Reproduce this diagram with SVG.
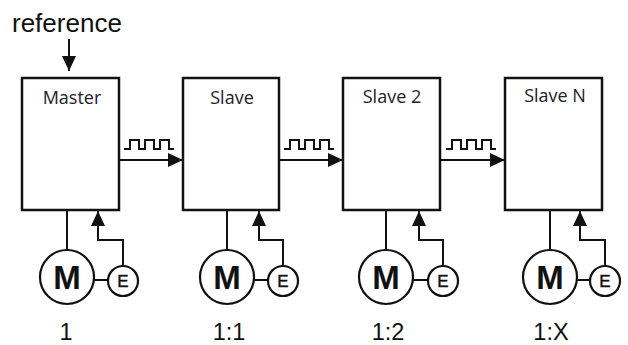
<svg xmlns="http://www.w3.org/2000/svg" width="628" height="345" viewBox="0 0 628 345">
  <defs>
    <marker id="head" markerUnits="userSpaceOnUse" markerWidth="16" markerHeight="14" refX="15" refY="7" orient="auto">
      <path d="M0,0 L15,7 L0,14 z" fill="#111"/>
    </marker>
  </defs>
  <style>
    .box { fill: #fff; stroke: #111; stroke-width: 2.5; }
    .ln { fill: none; stroke: #111; stroke-width: 2; }
    .arr { fill: none; stroke: #111; stroke-width: 2; marker-end: url(#head); }
    .wave { fill: none; stroke: #111; stroke-width: 2; stroke-linejoin: miter; }
    .circ { fill: #fff; stroke: #111; stroke-width: 2.2; }
    .title { font-family: "Open Sans", "DejaVu Sans", sans-serif; font-size: 18px; fill: #222; text-anchor: middle; }
    .m { font-family: "Liberation Sans", Arial, sans-serif; font-weight: bold; font-size: 33px; fill: #111; text-anchor: middle; }
    .e { font-family: "Liberation Sans", Arial, sans-serif; font-size: 17px; fill: #111; text-anchor: middle; stroke: #111; stroke-width: 0.4; }
    .ratio { font-family: "Liberation Sans", Arial, sans-serif; font-size: 23.5px; fill: #111; text-anchor: middle; }
    .ref { font-family: "Liberation Sans", Arial, sans-serif; font-size: 26px; fill: #111; }
  </style>

  <!-- reference input -->
  <g id="reference">
    <text class="ref" x="12" y="32">reference</text>
  </g>

  <!-- controller boxes -->
  <g id="master">
    <rect class="box" x="22" y="78" width="97" height="132"/>
    <text class="title" x="72" y="104">Master</text>
  </g>
  <g id="slave">
    <rect class="box" x="183" y="78" width="96" height="132"/>
    <text class="title" x="232" y="104">Slave</text>
  </g>
  <g id="slave2">
    <rect class="box" x="343" y="78" width="97" height="132"/>
    <text class="title" x="392" y="103">Slave 2</text>
  </g>
  <g id="slaveN">
    <rect class="box" x="505" y="78" width="97" height="132"/>
    <text class="title" x="555" y="102">Slave N</text>
  </g>

  <!-- motors with encoders -->
  <g id="motor1">
    <circle class="circ" cx="67" cy="277" r="27"/>
    <text class="m" x="67" y="289">M</text>
    <circle class="circ" cx="123" cy="281" r="15"/>
    <text class="e" x="123" y="287">E</text>
    <text class="ratio" x="66" y="340">1</text>
  </g>
  <g id="motor2">
    <circle class="circ" cx="227" cy="277" r="27"/>
    <text class="m" x="227" y="289">M</text>
    <circle class="circ" cx="283" cy="281" r="15"/>
    <text class="e" x="283" y="287">E</text>
    <text class="ratio" x="229" y="340">1:1</text>
  </g>
  <g id="motor3">
    <circle class="circ" cx="386" cy="277" r="27"/>
    <text class="m" x="386" y="289">M</text>
    <circle class="circ" cx="443" cy="281" r="15"/>
    <text class="e" x="443" y="287">E</text>
    <text class="ratio" x="388" y="340">1:2</text>
  </g>
  <g id="motor4">
    <circle class="circ" cx="550" cy="277" r="27"/>
    <text class="m" x="550" y="289">M</text>
    <circle class="circ" cx="605" cy="281" r="15"/>
    <text class="e" x="605" y="287">E</text>
    <text class="ratio" x="551" y="340">1:X</text>
  </g>

  <!-- connectors -->
  <g id="connectors">
    <!-- reference command -->
    <line class="arr" x1="69" y1="39" x2="69" y2="71"/>

    <!-- pulse links between controllers -->
    <line class="arr" x1="119" y1="160" x2="183" y2="160"/>
    <path class="wave" d="M124,149 h6 v-9 h9 v9 h6 v-9 h9 v9 h6 v-9 h9 v9 h5"/>
    <line class="arr" x1="279" y1="160" x2="343" y2="160"/>
    <path class="wave" d="M284,149 h6 v-9 h9 v9 h6 v-9 h9 v9 h6 v-9 h9 v9 h5"/>
    <line class="arr" x1="440" y1="160" x2="505" y2="160"/>
    <path class="wave" d="M446,149 h6 v-9 h9 v9 h6 v-9 h9 v9 h6 v-9 h9 v9 h5"/>

    <!-- drive outputs to motors -->
    <line class="ln" x1="67" y1="210" x2="67" y2="250"/>
    <line class="ln" x1="227" y1="210" x2="227" y2="250"/>
    <line class="ln" x1="386" y1="210" x2="386" y2="250"/>
    <line class="ln" x1="550" y1="210" x2="550" y2="250"/>

    <!-- motor to encoder couplings -->
    <line class="ln" x1="94" y1="280" x2="108" y2="280"/>
    <line class="ln" x1="254" y1="280" x2="268" y2="280"/>
    <line class="ln" x1="413" y1="280" x2="428" y2="280"/>
    <line class="ln" x1="577" y1="280" x2="590" y2="280"/>

    <!-- encoder feedback -->
    <path class="arr" d="M123,266 V240 H98 V211"/>
    <path class="arr" d="M283,266 V240 H259 V211"/>
    <path class="arr" d="M443,266 V240 H419 V211"/>
    <path class="arr" d="M605,266 V240 H580 V211"/>
  </g>
</svg>
